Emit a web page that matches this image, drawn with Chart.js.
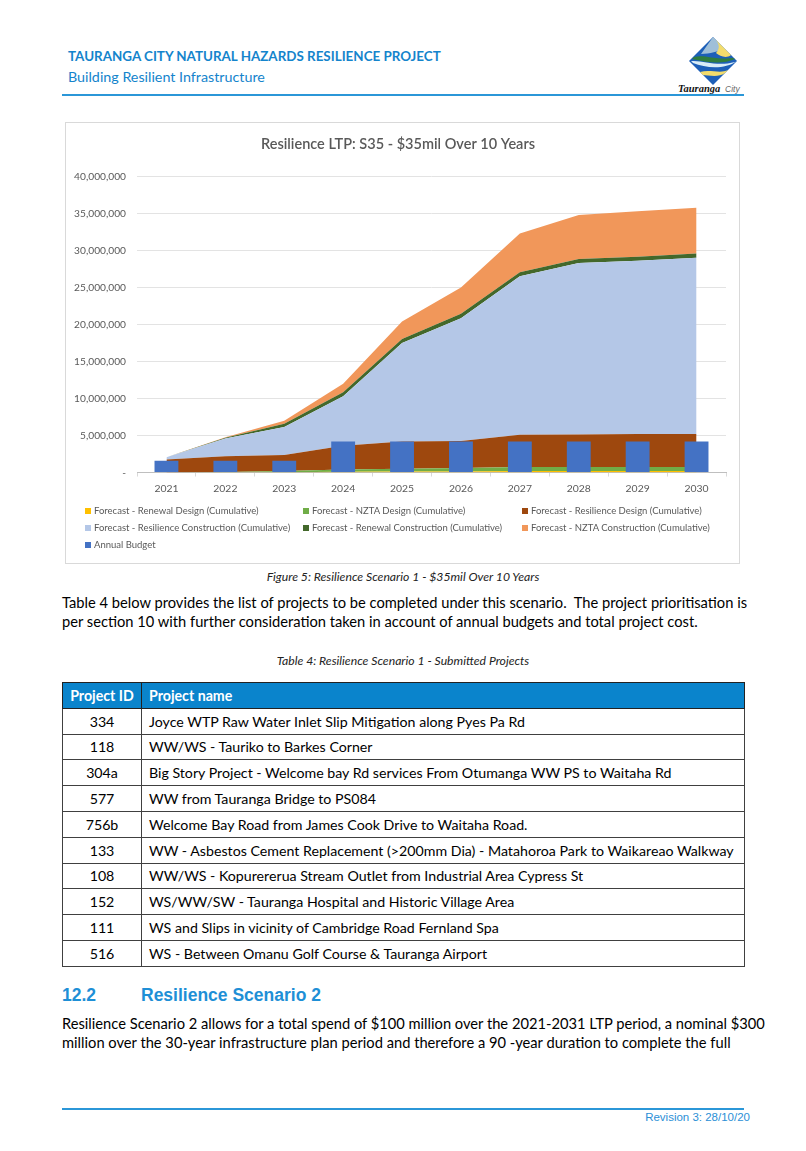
<!DOCTYPE html>
<html>
<head>
<meta charset="utf-8">
<script src="https://cdn.jsdelivr.net/npm/chart.js@4.4.0/dist/chart.umd.min.js"></script>
<style>
  body { margin: 0; background: #fff; font-family: Lato, "Open Sans", sans-serif; color: #000; }
  .page { position: relative; width: 806px; height: 1151px; overflow: hidden; }
  .abs { position: absolute; white-space: nowrap; }
  .hd1 { left: 68px; top: 48px; font-size: 13.4px; font-weight: bold; color: #1484cc; }
  .hd2 { left: 68px; top: 68px; font-size: 14.3px; color: #1484cc; }
  .rule { position: absolute; left: 62px; width: 682px; height: 2px; background: #2b97d8; }
  #chartBox { position: absolute; left: 65px; top: 122px; width: 673px; height: 440px; border: 1px solid #d9d9d9; }
  #legend { position: absolute; left: 0; top: 0; width: 100%; height: 100%; pointer-events: none; }
  .leg { position: absolute; font-size: 9.5px; color: #595959; white-space: nowrap; }
  .leg i { display: inline-block; width: 6px; height: 6px; margin-right: 3px; vertical-align: 0px; }
  .cap { font-size: 12.2px; font-style: italic; color: #222; left: 0; width: 806px; text-align: center; }
  .par { left: 62px; font-size: 14.7px; }
  table { position: absolute; left: 62px; top: 682px; width: 683px; border-collapse: collapse; table-layout: fixed; font-size: 14.2px; }
  td, th { border: 1px solid #404040; height: 24.8px; padding: 0 0 0 7px; white-space: nowrap; overflow: hidden; }
  th { background: #0a84cc; color: #fff; text-align: left; font-weight: bold; border-color: #222; }
  td.id, th.id { width: 78px; text-align: center; padding: 0; }
  .h2 { top: 985px; font-family: Arial, "Liberation Sans", sans-serif; font-weight: bold; font-size: 17.5px; color: #1e8fd6; }
  .foot { right: 56px; top: 1111px; font-family: Arial, "Liberation Sans", sans-serif; font-size: 11.5px; color: #2b8fd6; }
</style>
</head>
<body>
<div class="page">
  <div class="abs hd1">TAURANGA CITY NATURAL HAZARDS RESILIENCE PROJECT</div>
  <div class="abs hd2">Building Resilient Infrastructure</div>

  <!-- logo -->
  <svg class="abs" style="left:676px;top:34px" width="74" height="64" viewBox="0 0 74 64">
    <polygon points="37,3 61,27 37,51 13,27" fill="#1d5fb8"/>
    <path d="M37,3 L49,15 C42,17 34,20 25,20 Z" fill="#9fbfd8"/>
    <path d="M37,3 L55,21 C50,25 44,22 40,19 C45,14 43,8 37,3 Z" fill="#f3dc6c"/>
    <path d="M18,23 C28,20 38,26 57,24 L59,25 C46,31 30,28 16,25 Z" fill="#2f7d3f"/>
    <path d="M15,27 C28,26 40,33 59,28 L61,27 C48,36 30,34 17,29 Z" fill="#d9ecf6"/>
    <path d="M24,38 C34,35 44,40 52,36 L49,39 C42,44 32,41 27,41 Z" fill="#f3dc6c"/>
    <text x="2" y="58" font-family="Liberation Serif, serif" font-style="italic" font-weight="bold" font-size="10.5" fill="#111">Tauranga</text>
    <text x="49" y="58" font-family="Liberation Sans, sans-serif" font-style="italic" font-size="8.5" fill="#666">City</text>
  </svg>
  <div class="rule" style="top:94px"></div>

  <div id="chartBox">
    <canvas id="area-chart"></canvas>
    <div id="legend"></div>
  </div>

  <div class="abs cap" style="top:569px">Figure 5: Resilience Scenario 1 - $35mil Over 10 Years</div>

  <div class="abs par" style="top:593px">Table 4 below provides the list of projects to be completed under this scenario.&nbsp; The project prioritisation is</div>
  <div class="abs par" style="top:612px">per section 10 with further consideration taken in account of annual budgets and total project cost.</div>

  <div class="abs cap" style="top:653px">Table 4: Resilience Scenario 1 - Submitted Projects</div>

  <table id="projTable">
    <tr><th class="id">Project ID</th><th>Project name</th></tr>
  </table>

  <div class="abs h2" style="left:62px">12.2</div>
  <div class="abs h2" style="left:141px">Resilience Scenario 2</div>

  <div class="abs par" style="top:1014px">Resilience Scenario 2 allows for a total spend of $100 million over the 2021-2031 LTP period, a nominal $300</div>
  <div class="abs par" style="top:1033px">million over the 30-year infrastructure plan period and therefore a 90 -year duration to complete the full</div>

  <div class="rule" style="top:1108px"></div>
  <div class="abs foot">Revision 3: 28/10/20</div>
</div>

<script>
// Data
var years = ['2021', '2022', '2023', '2024', '2025', '2026', '2027', '2028', '2029', '2030'];
var renewalDesign = [0, 20000, 50000, 100000, 150000, 150000, 200000, 200000, 200000, 200000];
var nztaDesign = [0, 50000, 150000, 300000, 350000, 450000, 550000, 550000, 550000, 550000];
var resilienceDesign = [1750000, 2130000, 2150000, 3200000, 3700000, 3650000, 4350000, 4400000, 4450000, 4450000];
var resilienceConstruction = [300000, 2400000, 3800000, 6700000, 13300000, 16600000, 21400000, 23150000, 23400000, 23800000];
var renewalConstruction = [0, 80000, 450000, 550000, 550000, 600000, 550000, 550000, 550000, 600000];
var nztaConstruction = [0, 70000, 400000, 1150000, 2350000, 3550000, 5250000, 5950000, 6150000, 6150000];
var annualBudget = [1600000, 1600000, 1600000, 4200000, 4200000, 4200000, 4200000, 4200000, 4200000, 4200000];

var projectIds = ['334', '118', '304a', '577', '756b', '133', '108', '152', '111', '516'];
var projectNames = [
    'Joyce WTP Raw Water Inlet Slip Mitigation along Pyes Pa Rd',
    'WW/WS - Tauriko to Barkes Corner',
    'Big Story Project - Welcome bay Rd services From Otumanga WW PS to Waitaha Rd',
    'WW from Tauranga Bridge to PS084',
    'Welcome Bay Road from James Cook Drive to Waitaha Road.',
    'WW - Asbestos Cement Replacement (>200mm Dia) - Matahoroa Park to Waikareao Walkway',
    'WW/WS - Kopurererua Stream Outlet from Industrial Area Cypress St',
    'WS/WW/SW - Tauranga Hospital and Historic Village Area',
    'WS and Slips in vicinity of Cambridge Road Fernland Spa',
    'WS - Between Omanu Golf Course & Tauranga Airport'
];

// Table
var table = document.getElementById('projTable');
for (var i = 0; i < projectIds.length; i++) {
    var tr = document.createElement('tr');
    var td1 = document.createElement('td');
    td1.className = 'id';
    td1.textContent = projectIds[i];
    var td2 = document.createElement('td');
    td2.textContent = projectNames[i];
    tr.appendChild(td1);
    tr.appendChild(td2);
    table.appendChild(tr);
}

// Area series
function areaSet(label, data, color, fill) {
    return {
        type: 'line',
        label: label,
        data: data,
        backgroundColor: color,
        borderColor: color,
        borderWidth: 0,
        pointRadius: 0,
        tension: 0,
        fill: fill,
        stack: 'cumul',
        order: 1
    };
}

var datasets = [
    areaSet('Forecast - Renewal Design (Cumulative)', renewalDesign, '#ffc000', 'origin'),
    areaSet('Forecast - NZTA Design (Cumulative)', nztaDesign, '#70ad47', '-1'),
    areaSet('Forecast - Resilience Design (Cumulative)', resilienceDesign, '#9e480e', '-1'),
    areaSet('Forecast - Resilience Construction (Cumulative)', resilienceConstruction, '#b4c7e7', '-1'),
    areaSet('Forecast - Renewal Construction (Cumulative)', renewalConstruction, '#43682b', '-1'),
    areaSet('Forecast - NZTA Construction (Cumulative)', nztaConstruction, '#f1975a', '-1'),
    {
        type: 'bar',
        label: 'Annual Budget',
        data: annualBudget,
        backgroundColor: '#4472c4',
        barPercentage: 0.45,
        categoryPercentage: 0.9,
        stack: 'budget',
        order: 0
    }
];

Chart.defaults.font.family = 'Lato, "Open Sans", sans-serif';
Chart.defaults.color = '#595959';

var config = {
    type: 'bar',
    data: { labels: years, datasets: datasets },
    options: {
        responsive: true,
        maintainAspectRatio: false,
        animation: false,
        layout: { padding: { left: 4, right: 13, top: 0, bottom: 62 } },
        plugins: {
            legend: { display: false },
            tooltip: { enabled: false },
            title: {
                display: true,
                text: 'Resilience LTP: S35 - $35mil Over 10 Years',
                font: { size: 14.5, weight: '600' },
                color: '#595959',
                padding: { top: 13, bottom: 23 }
            }
        },
        scales: {
            x: {
                stacked: true,
                offset: true,
                grid: { display: true, drawOnChartArea: false, drawTicks: true, tickLength: 4, color: '#d9d9d9', offset: true },
                border: { display: true, color: '#bfbfbf' },
                ticks: { font: { size: 10.4 }, color: '#595959', padding: 6 }
            },
            y: {
                stacked: true,
                min: 0,
                max: 40000000,
                afterFit: function (scale) { scale.width = 67; },
                grid: { color: '#e3e3e3', drawTicks: false },
                border: { display: false },
                ticks: {
                    stepSize: 5000000,
                    padding: 11,
                    font: { size: 10.2 },
                    color: '#595959',
                    callback: function (v) { return v === 0 ? '-' : v.toLocaleString('en-US'); }
                }
            }
        }
    }
};

var ctx = document.getElementById('area-chart').getContext('2d');
var myChart = new Chart(ctx, config);

// Legend in three columns, built from the datasets
var legendDiv = document.getElementById('legend');
var colX = [19, 237, 456];
var rowY = [382, 399, 416];
myChart.data.datasets.forEach(function (ds, k) {
    var item = document.createElement('div');
    item.className = 'leg';
    item.style.left = colX[k % 3] + 'px';
    item.style.top = rowY[Math.floor(k / 3)] + 'px';
    item.innerHTML = '<i style="background:' + ds.backgroundColor + '"></i>';
    item.appendChild(document.createTextNode(ds.label));
    legendDiv.appendChild(item);
});
</script>
</body>
</html>
